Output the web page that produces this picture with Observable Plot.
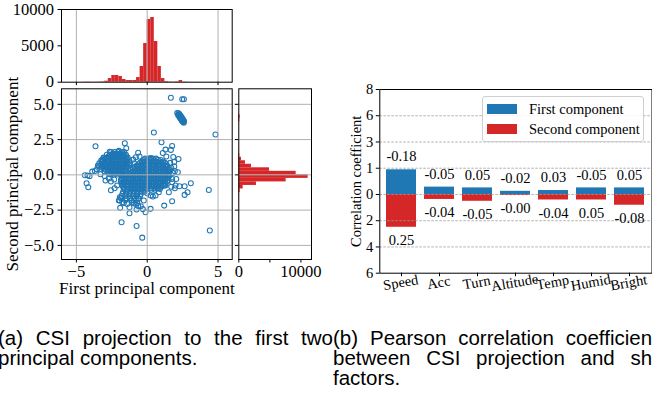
<!DOCTYPE html>
<html>
<head>
<meta charset="utf-8">
<script src="https://cdn.jsdelivr.net/npm/d3@7"></script>
<script src="https://cdn.jsdelivr.net/npm/@observablehq/plot@0.6"></script>
<style>
  html, body { margin: 0; padding: 0; background: #fff; }
  #fig { position: relative; width: 652px; height: 405px; overflow: hidden; background: #fff; }
  .panel { position: absolute; }
  .panel svg { overflow: visible; max-width: none !important; display: block; }
  .cap { position: absolute; font-family: 'Liberation Sans', Arial, sans-serif; font-size: 20.5px; line-height: 20px; color: #000; }
  .cap .j { text-align: justify; text-align-last: justify; }
  #legend { position: absolute; left: 482px; top: 96px; width: 160px; height: 44px; border: 1px solid #cfcfcf; border-radius: 3px; background: rgba(255,255,255,0.85); font-family: 'Liberation Serif', 'Times New Roman', serif; font-size: 14.5px; }
  #legend .row { position: absolute; left: 4px; height: 14px; display: flex; align-items: center; white-space: nowrap; }
  #legend .sw { width: 30px; height: 10px; margin-right: 12px; }
</style>
</head>
<body>
<div id="fig">
  <div class="panel" id="topHist" style="left:0px;top:0px;width:240px;height:90px"></div>
  <div class="panel" id="scatter" style="left:0px;top:80px;width:240px;height:220px"></div>
  <div class="panel" id="rightHist" style="left:232px;top:80px;width:90px;height:220px"></div>
  <div class="panel" id="bars" style="left:335px;top:75px;width:330px;height:230px"></div>
  <div id="legend"></div>
  <div class="cap" style="left:-2px;top:328px;width:335px">
    <div class="j">(a) CSI projection to the first two</div>
    <div>principal components.</div>
  </div>
  <div class="cap" style="left:333px;top:328px;width:335px">
    <div class="j">(b) Pearson correlation coefficients</div>
    <div class="j">between CSI projection and shift</div>
    <div>factors.</div>
  </div>
</div>
<script>
// ---------------- data ----------------
// Scatter: dense blobs typed as rows [y, [x ...]]
const pcBlobRows = [
  [1.62, [-2.55,-2.3,-2.05,-1.8,-1.62]],
  [1.52, [-2.42,-2.18,-1.93,-1.7]],
  [1.42, [-2.85,-2.62,-2.4,-2.15,-1.92,-1.7,-1.5]],
  [1.32, [-2.72,-2.48,-2.23,-1.98,-1.73,-1.5]],
  [1.22, [-3.08,-2.85,-2.6,-2.35,-2.1,-1.85,-1.6,-1.38]],
  [1.12, [-2.95,-2.7,-2.45,-2.2,-1.95,-1.7,-1.45]],
  [1.02, [-3.25,-3.0,-2.75,-2.5,-2.25,-2.0,-1.75,-1.5,-1.27]],
  [0.92, [-3.2,-2.95,-2.7,-2.45,-2.2,-1.95,-1.7,-1.45]],
  [0.82, [-3.38,-3.12,-2.88,-2.62,-2.38,-2.12,-1.88,-1.62,-1.38,-1.22]],
  [0.72, [-3.25,-3.0,-2.75,-2.5,-2.25,-2.0,-1.75,-1.5,-1.3]],
  [0.62, [-3.4,-3.15,-2.9,-2.65,-2.4,-2.15,-1.9,-1.65,-1.42]],
  [0.52, [-3.2,-2.95,-2.7,-2.45,-2.2,-1.95,-1.7,-1.48]],
  [0.42, [-3.3,-3.05,-2.8,-2.55,-2.3,-2.05,-1.8,-1.55]],
  [0.32, [-2.9,-2.65,-2.4,-2.15,-1.9,-1.65]],
  [0.22, [-3.0,-2.75,-2.5,-2.25,-2.0,-1.75,-1.55]],
  [0.12, [-2.5,-2.25,-2.0,-1.75]],
  [0.02, [-2.6,-2.35,-2.1,-1.85,-1.65]],
  [1.15, [-0.13,0.12,0.37,0.62]],
  [1.05, [-0.25,0,0.25,0.5,0.75,0.95]],
  [0.95, [-0.38,-0.13,0.12,0.37,0.62,0.87,1.12]],
  [0.85, [-0.5,-0.25,0,0.25,0.5,0.75,1.0,1.25]],
  [0.75, [-0.63,-0.38,-0.13,0.12,0.37,0.62,0.87,1.12,1.35]],
  [0.65, [-0.75,-0.5,-0.25,0,0.25,0.5,0.75,1.0,1.25,1.4]],
  [0.55, [-0.88,-0.63,-0.38,-0.13,0.12,0.37,0.62,0.87,1.12,1.37]],
  [0.45, [-1.0,-0.75,-0.5,-0.25,0,0.25,0.5,0.75,1.0,1.25,1.5]],
  [0.35, [-1.13,-0.88,-0.63,-0.38,-0.13,0.12,0.37,0.62,0.87,1.12,1.37,1.55]],
  [0.25, [-1.25,-1.0,-0.75,-0.5,-0.25,0,0.25,0.5,0.75,1.0,1.25,1.5]],
  [0.15, [-1.38,-1.13,-0.88,-0.63,-0.38,-0.13,0.12,0.37,0.62,0.87,1.12,1.37,1.55]],
  [0.05, [-1.5,-1.25,-1.0,-0.75,-0.5,-0.25,0,0.25,0.5,0.75,1.0,1.25,1.5]],
  [-0.05, [-1.63,-1.38,-1.13,-0.88,-0.63,-0.38,-0.13,0.12,0.37,0.62,0.87,1.12,1.37,1.55]],
  [-0.15, [-1.75,-1.5,-1.25,-1.0,-0.75,-0.5,-0.25,0,0.25,0.5,0.75,1.0,1.25,1.5]],
  [-0.25, [-1.8,-1.63,-1.38,-1.13,-0.88,-0.63,-0.38,-0.13,0.12,0.37,0.62,0.87,1.12,1.37]],
  [-0.35, [-1.85,-1.5,-1.25,-1.0,-0.75,-0.5,-0.25,0,0.25,0.5,0.75,1.0,1.25,1.5]],
  [-0.45, [-1.85,-1.63,-1.38,-1.13,-0.88,-0.63,-0.38,-0.13,0.12,0.37,0.62,0.87,1.12,1.4]],
  [-0.55, [-1.75,-1.5,-1.25,-1.0,-0.75,-0.5,-0.25,0,0.25,0.5,0.75,1.0,1.25]],
  [-0.65, [-1.8,-1.63,-1.38,-1.13,-0.88,-0.63,-0.38,-0.13,0.12,0.37,0.62,0.87,1.12,1.3]],
  [-0.75, [-1.75,-1.5,-1.25,-1.0,-0.75,-0.5,-0.25,0,0.25,0.5,0.75,1.0,1.2]],
  [-0.85, [-1.7,-1.38,-1.13,-0.88,-0.63,-0.38,-0.13,0.12,0.37,0.62,0.87,1.0]],
  [-0.95, [-1.65,-1.25,-1.0,-0.75,-0.5,-0.25,0,0.25,0.5,0.75]],
  [-1.05, [-1.6,-1.38,-1.13,-0.88,-0.63,-0.38,-0.13,0.3,0.55]],
  [-1.2, [-1.7,-1.45,-1.2,-0.95,-0.7,-0.45,-0.2]],
  [-1.35, [-1.75,-1.5,-1.25,-0.95,-0.7,-0.45]],
  [-1.5, [-1.8,-1.55,-1.25,-1.0,-0.75,-0.5]],
  [-1.65, [-1.85,-1.45,-1.2,-0.9,-0.65]],
  [-1.8, [-1.95,-1.55,-1.1,-0.8]],
  [-2.0, [-1.65,-0.95,-0.7]]
];
// Scatter: isolated points [x, y]
const pcOutliers = [
  [2.12,4.38],[2.2,4.3],[2.26,4.22],[2.3,4.14],[2.36,4.06],[2.4,3.98],[2.45,3.9],[2.5,3.82],[2.54,3.75],[2.58,3.7],
  [2.22,4.36],[2.28,4.28],[2.34,4.2],[2.4,4.12],[2.45,4.04],[2.5,3.96],[2.55,3.88],[2.6,3.8],
  [2.18,4.24],[2.25,4.15],[2.3,4.06],[2.36,3.98],[2.42,3.88],[2.48,3.8],
  [1.67,5.46],[2.47,5.36],[2.59,5.36],[4.82,2.86],[0.47,3.0],[1.01,2.31],[1.76,2.05],[1.67,1.77],[1.29,1.79],
  [-1.58,2.24],[-3.65,2.03],[-1.48,1.89],[-2.64,1.63],[-2.0,1.7],[-0.64,1.56],[-0.54,1.3],[0.26,1.2],
  [1.84,1.27],[2.21,1.13],[-0.92,0.82],[-0.26,0.92],[1.91,0.92],[1.62,0.85],[1.91,0.59],[1.95,0.26],[2.16,0.19],
  [-4.4,-0.03],[-4.21,-0.05],[-4.07,-0.09],[-4.28,-0.59],[-4.16,-0.88],[-3.88,0.23],[-3.69,0.28],[-3.48,0.66],
  [-3.15,1.08],[-2.98,1.2],[-2.94,-0.4],[-2.56,-1.09],[-2.33,-0.33],[-1.93,-1.59],[-2.0,-1.82],[-1.91,-2.34],
  [-1.25,-2.72],[-0.75,-2.46],[-0.64,-2.2],[-0.45,-2.22],[-0.31,-2.43],[-0.12,-2.65],[0.24,-2.41],[1.2,-2.18],
  [1.76,-1.87],[2.0,-0.76],[2.28,-0.81],[2.64,-0.81],[3.08,-0.59],[2.85,-1.23],[2.64,-1.42],[1.95,-0.95],
  [1.53,-1.23],[1.29,-0.76],[-1.81,-3.36],[-0.75,-3.62],[-0.35,-4.45],[4.35,-1.07],[4.42,-3.95],[0.4,-1.54],
  [0.59,-1.47],[0.82,-1.23],[1.76,-0.52],[2.05,-0.29],[1.53,-0.05],[1.81,0.14],[-0.99,1.08],[-0.8,1.25],
  [-2.56,-0.47],[-2.12,-0.76],[-2.3,-0.95],[-1.76,-1.94],[-1.41,-2.06],[-1.06,-1.94],[-0.82,-2.06],[-0.59,-1.7],
  [-0.24,-1.82],[-1.25,-2.29],[0.24,-1.47],[1.1,1.55],[1.35,1.3],[1.7,0.5],[1.75,-0.3],[1.7,-0.85],
  [0.0,-1.3],[0.9,-1.0],[-3.3,0.05],[-3.55,0.4],[-3.0,-0.1],[-2.7,-0.25]
];

// Histogram of the first component (bin edges and counts)
const pc1Edges = [-4.75,-4.5,-4.25,-4,-3.75,-3.5,-3.25,-3,-2.75,-2.5,-2.25,-2,-1.75,-1.5,-1.25,-1,-0.75,-0.5,-0.25,0,
  0.25,0.5,0.75,1,1.25,1.5,1.75,2,2.25,2.5,2.75,3,3.25,3.5,3.75,4,4.25,4.5,4.75,5];
const pc1Counts = [10,25,30,15,20,30,50,140,500,920,920,780,370,230,230,230,640,2160,5320,8620,
  8900,5600,2160,500,90,40,30,60,230,40,15,10,10,5,5,5,10,10,5];

// Histogram of the second component
const pc2Edges = [-4.75,-4.5,-4.25,-4,-3.75,-3.5,-3.25,-3,-2.75,-2.5,-2.25,-2,-1.75,-1.5,-1.25,-1,-0.75,-0.5,-0.25,0,
  0.25,0.5,0.75,1,1.25,1.5,1.75,2,2.25,2.5,2.75,3,3.25,3.5,3.75,4,4.25,4.5,4.75,5,5.25,5.5];
const pc2Counts = [10,10,15,15,15,20,20,25,30,35,40,50,70,100,215,700,2840,7620,11160,
  9230,4940,2040,1070,430,150,60,40,30,20,15,15,10,10,30,150,220,40,5,5,5,10];

const scatterTicksX = [-5, 0, 5];
const scatterTicksY = [-5, -2.5, 0, 2.5, 5];
const topHistTicks = [0, 5000, 10000];
const rightHistTicks = [0, 5000, 10000];
const rightHistTickLabels = ["0", "", "10000"];

// Correlation bars
const factors = ["Speed", "Acc", "Turn", "Altitude", "Temp", "Humid", "Bright"];
const firstBar = [0.94, 0.28, 0.25, 0.12, 0.15, 0.25, 0.25];
const secondBar = [1.25, 0.19, 0.26, 0.04, 0.21, 0.21, 0.41];
const firstLabels = ["-0.18", "-0.05", "0.05", "-0.02", "0.03", "-0.05", "0.05"];
const secondLabels = ["0.25", "-0.04", "-0.05", "-0.00", "-0.04", "0.05", "-0.08"];
const corrTickPos = [-3, -2, -1, 0, 1, 2, 3, 4];
const corrTickText = ["6", "4", "2", "0", "1", "3", "6", "8"];
const corrGridPos = [-2, -1, 0, 1, 2, 3];
const seriesNames = ["First component", "Second component"];

// ---------------- drawing ----------------
const BLUE = "#1f77b4", RED = "#d62728";
const serif = "'Liberation Serif', 'Times New Roman', serif";
const gridStyle = {stroke: "#b0b0b0", strokeOpacity: 1, strokeWidth: 1};
const minus = s => String(s).replace("-", "\u2212");
const T = (size) => ({fontFamily: serif, fontSize: size});

const points = pcBlobRows.flatMap(([y, xs]) => xs.map(x => [x, y])).concat(pcOutliers);
const pc1Bins = pc1Counts.map((c, i) => ({lo: pc1Edges[i], hi: pc1Edges[i + 1], count: c}));
const pc2Bins = pc2Counts.map((c, i) => ({lo: pc2Edges[i], hi: pc2Edges[i + 1], count: c}));

const xDom = [-6.05, 6.0], yDom = [-6.0, 6.1];

document.getElementById("topHist").append(Plot.plot({
  width: 240, height: 90, marginTop: 9, marginBottom: 8.3, marginLeft: 61, marginRight: 8.3,
  style: {fontFamily: serif, fontSize: "16.5px", background: "transparent", color: "#000"},
  x: {domain: xDom}, y: {domain: [0, 10000]},
  marks: [
    Plot.rect(pc1Bins, {x1: "lo", x2: "hi", y1: () => 0, y2: "count", fill: RED}),
    Plot.gridX(scatterTicksX, gridStyle),
    Plot.frame({stroke: "#000", strokeWidth: 1}),
    Plot.axisY(topHistTicks, {tickSize: 3.5, tickPadding: 4, tickFormat: d => String(d), label: null, ...T(16.5)}),
    Plot.axisX(scatterTicksX, {tickSize: 3.5, tickFormat: () => "", label: null})
  ]
}));

document.getElementById("scatter").append(Plot.plot({
  width: 240, height: 220, marginTop: 8.3, marginBottom: 41, marginLeft: 61, marginRight: 8.3,
  style: {fontFamily: serif, fontSize: "16.5px", background: "transparent", color: "#000"},
  x: {domain: xDom}, y: {domain: yDom},
  marks: [
    Plot.dot(points, {x: d => d[0], y: d => d[1], r: 2.5, stroke: BLUE, strokeWidth: 1.05, fill: "none"}),
    Plot.gridX(scatterTicksX, gridStyle),
    Plot.gridY(scatterTicksY, gridStyle),
    Plot.frame({stroke: "#000", strokeWidth: 1}),
    Plot.axisX(scatterTicksX, {tickSize: 3.5, tickPadding: 2, tickFormat: d => minus(d), label: null, ...T(16.5)}),
    Plot.axisY(scatterTicksY, {tickSize: 3.5, tickPadding: 4, tickFormat: d => minus(d.toFixed(1)), label: null, ...T(16.5)}),
    Plot.text(["First principal component"], {text: d => d, frameAnchor: "bottom", dy: 34.5, textAnchor: "middle", ...T(17)}),
    Plot.text(["Second principal component"], {text: d => d, frameAnchor: "left", dx: -49, rotate: -90, textAnchor: "middle", ...T(17)})
  ]
}));

document.getElementById("rightHist").append(Plot.plot({
  width: 90, height: 220, marginTop: 8.3, marginBottom: 41, marginLeft: 6.3, marginRight: 11,
  style: {fontFamily: serif, fontSize: "16.5px", background: "transparent", color: "#000"},
  x: {domain: [0, 11700]}, y: {domain: yDom},
  marks: [
    Plot.rect(pc2Bins, {y1: "lo", y2: "hi", x1: () => 0, x2: "count", fill: RED}),
    Plot.gridY(scatterTicksY, gridStyle),
    Plot.frame({stroke: "#000", strokeWidth: 1}),
    Plot.axisY(scatterTicksY, {tickSize: 3.5, tickFormat: () => "", label: null}),
    Plot.axisX(rightHistTicks, {tickSize: 3.5, tickPadding: 2, tickFormat: d => rightHistTickLabels[rightHistTicks.indexOf(d)], label: null, ...T(16.5)})
  ]
}));

const corrRows = factors.map((f, i) => ({factor: f, first: firstBar[i], second: secondBar[i], l1: firstLabels[i], l2: secondLabels[i]}));

document.getElementById("bars").append(Plot.plot({
  width: 330, height: 230, marginLeft: 44.3, marginRight: 13.5, marginTop: 14, marginBottom: 32.3,
  style: {fontFamily: serif, fontSize: "14.5px", background: "transparent", color: "#000"},
  x: {domain: factors, paddingInner: 0.2, paddingOuter: 0.11}, y: {domain: [-3, 4]},
  marks: [
    Plot.barY(corrRows, {x: "factor", y1: () => 0, y2: "first", fill: BLUE}),
    Plot.barY(corrRows, {x: "factor", y1: () => 0, y2: d => -d.second, fill: RED}),
    Plot.gridY(corrGridPos, {stroke: "#a0a0a0", strokeOpacity: 1, strokeWidth: 0.8, strokeDasharray: "2.5,1.5"}),
    Plot.text(corrRows, {x: "factor", y: "first", text: "l1", dy: -13, ...T(14.5)}),
    Plot.text(corrRows, {x: "factor", y: d => -d.second, text: "l2", dy: 13, ...T(14.5)}),
    Plot.frame({stroke: "#000", strokeWidth: 1}),
    Plot.axisY(corrTickPos, {tickSize: 3.5, tickPadding: 3, tickFormat: d => corrTickText[corrTickPos.indexOf(d)], label: null, ...T(14.5)}),
    Plot.axisX({tickSize: 3.5, tickFormat: () => "", label: null}),
    Plot.text(factors, {x: d => d, text: d => d, frameAnchor: "bottom", dy: 14, rotate: -10, textAnchor: "middle", ...T(14.5)}),
    Plot.text(["Correlation coefficient"], {text: d => d, frameAnchor: "left", dx: -23, rotate: -90, textAnchor: "middle", ...T(14.5)})
  ]
}));

// legend
const legend = document.getElementById("legend");
seriesNames.forEach((name, i) => {
  const row = document.createElement("div");
  row.className = "row";
  row.style.top = (5 + i * 20) + "px";
  const sw = document.createElement("div");
  sw.className = "sw";
  sw.style.background = [BLUE, RED][i];
  const t = document.createElement("span");
  t.textContent = name;
  row.append(sw, t);
  legend.append(row);
});
</script>
</body>
</html>
